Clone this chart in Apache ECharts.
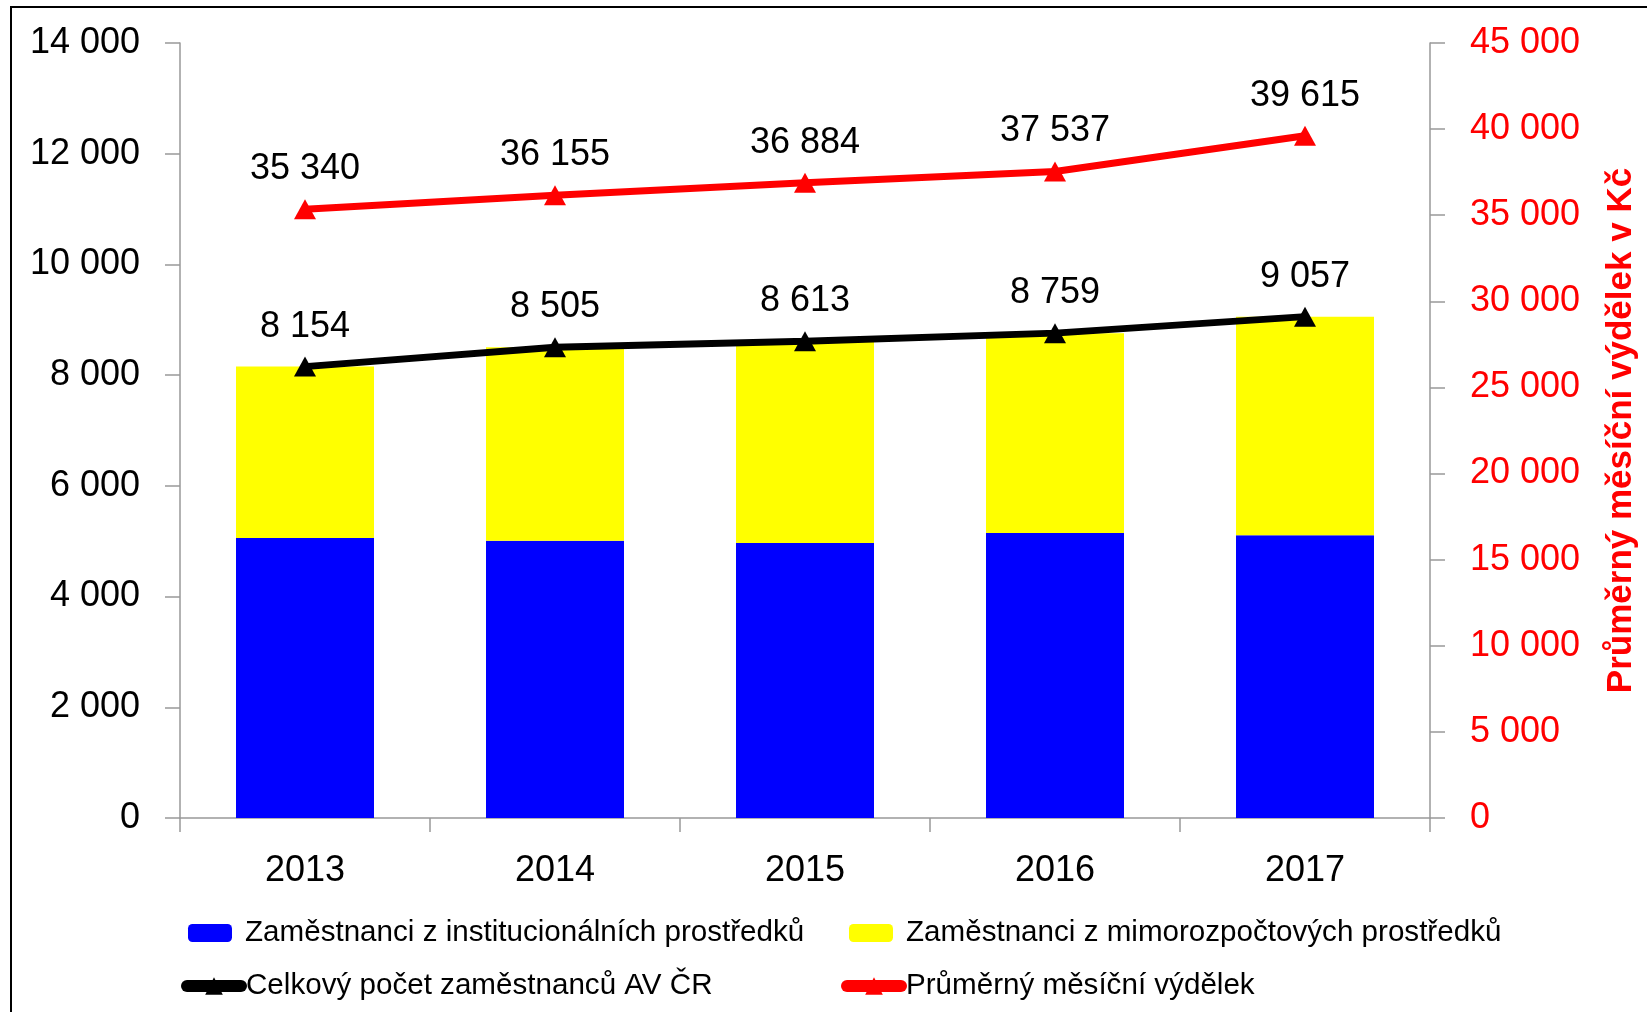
<!DOCTYPE html>
<html>
<head>
<meta charset="utf-8">
<script src="https://cdn.jsdelivr.net/npm/echarts@6/dist/echarts.min.js"></script>
<style>
  html, body { margin: 0; padding: 0; background: #fff; }
  #main { width: 1647px; height: 1012px; }
</style>
</head>
<body>
<div id="main"></div>
<script>
const years = ['2013', '2014', '2015', '2016', '2017'];
const institucionalni = [5060, 5010, 4970, 5150, 5110];
const mimorozpoctove = [3094, 3495, 3643, 3609, 3947];
const celkem = [8154, 8505, 8613, 8759, 9057];
const vydelek = [35340, 36155, 36884, 37537, 39615];

const FONT = '"Liberation Sans", Arial, sans-serif';

function fmt(v) {
  return String(v).replace(/\B(?=(\d{3})+(?!\d))/g, ' ');
}

const chart = echarts.init(document.getElementById('main'));

var option = {
  backgroundColor: '#ffffff',
  animation: false,
  textStyle: { fontFamily: FONT },
  graphic: [{
    type: 'rect',
    shape: { x: 11, y: 7, width: 2000, height: 2000 },
    style: { fill: 'none', stroke: '#000', lineWidth: 2 },
    silent: true
  }],
  grid: {
    left: 180,
    right: 215,
    top: 43,
    bottom: 194
  },
  legend: [
    {
      data: ['Zaměstnanci z institucionálních prostředků'],
      left: 188, top: 918, padding: 0,
      itemWidth: 44, itemHeight: 18,
      textStyle: { fontSize: 29.6, color: '#000', fontFamily: FONT, padding: [0, 0, 0, 8] }
    },
    {
      data: ['Zaměstnanci z mimorozpočtových prostředků'],
      left: 849, top: 918, padding: 0,
      itemWidth: 44, itemHeight: 18,
      textStyle: { fontSize: 29.6, color: '#000', fontFamily: FONT, padding: [0, 0, 0, 8] }
    },
    {
      data: ['Celkový počet zaměstnanců AV ČR'],
      left: 181, top: 971, padding: 0,
      itemWidth: 54, itemHeight: 22,
      lineStyle: { width: 12, cap: 'round' },
      textStyle: { fontSize: 29.6, color: '#000', fontFamily: FONT }
    },
    {
      data: ['Průměrný měsíční výdělek'],
      left: 841, top: 971, padding: 0,
      itemWidth: 54, itemHeight: 22,
      lineStyle: { width: 12, cap: 'round' },
      textStyle: { fontSize: 29.6, color: '#000', fontFamily: FONT }
    }
  ],
  xAxis: {
    type: 'category',
    data: years,
    axisLine: { lineStyle: { color: '#999', width: 1.5 } },
    axisTick: { show: true, length: 14, lineStyle: { color: '#999', width: 1.5 } },
    axisLabel: { fontSize: 36, color: '#000', margin: 35, fontFamily: FONT }
  },
  yAxis: [
    {
      type: 'value',
      min: 0,
      max: 14000,
      interval: 2000,
      splitLine: { show: false },
      axisLine: { show: true, lineStyle: { color: '#999', width: 1.5 } },
      axisTick: { show: true, length: 15, lineStyle: { color: '#999', width: 1.5 } },
      axisLabel: { fontSize: 36, color: '#000', margin: 40, formatter: fmt, fontFamily: FONT }
    },
    {
      type: 'value',
      min: 0,
      max: 45000,
      interval: 5000,
      position: 'right',
      splitLine: { show: false },
      axisLine: { show: true, lineStyle: { color: '#999', width: 1.5 } },
      axisTick: { show: true, length: 15, lineStyle: { color: '#999', width: 1.5 } },
      axisLabel: { fontSize: 36, color: '#ff0000', margin: 40, formatter: fmt, fontFamily: FONT },
      name: 'Průměrný měsíční výdělek v Kč',
      nameLocation: 'middle',
      nameRotate: 90,
      nameGap: 174,
      nameTextStyle: { fontSize: 35, fontWeight: 'bold', color: '#ff0000', fontFamily: FONT }
    }
  ],
  series: [
    {
      name: 'Zaměstnanci z institucionálních prostředků',
      type: 'bar',
      stack: 'pocet',
      barWidth: 138,
      itemStyle: { color: '#0000ff' },
      data: institucionalni
    },
    {
      name: 'Zaměstnanci z mimorozpočtových prostředků',
      type: 'bar',
      stack: 'pocet',
      barWidth: 138,
      itemStyle: { color: '#ffff00' },
      data: mimorozpoctove
    },
    {
      name: 'Celkový počet zaměstnanců AV ČR',
      type: 'line',
      yAxisIndex: 0,
      z: 5,
      symbol: 'triangle',
      symbolSize: [22, 20],
      lineStyle: { color: '#000', width: 7 },
      itemStyle: { color: '#000' },
      label: {
        show: true,
        position: 'top',
        distance: 12,
        fontSize: 36,
        color: '#000',
        fontFamily: FONT,
        formatter: function (p) { return fmt(p.value); }
      },
      data: celkem
    },
    {
      name: 'Průměrný měsíční výdělek',
      type: 'line',
      yAxisIndex: 1,
      z: 5,
      symbol: 'triangle',
      symbolSize: [22, 20],
      lineStyle: { color: '#ff0000', width: 7 },
      itemStyle: { color: '#ff0000' },
      label: {
        show: true,
        position: 'top',
        distance: 12,
        fontSize: 36,
        color: '#000',
        fontFamily: FONT,
        formatter: function (p) { return fmt(p.value); }
      },
      data: vydelek
    }
  ]
};

chart.setOption(option);
</script>
</body>
</html>
